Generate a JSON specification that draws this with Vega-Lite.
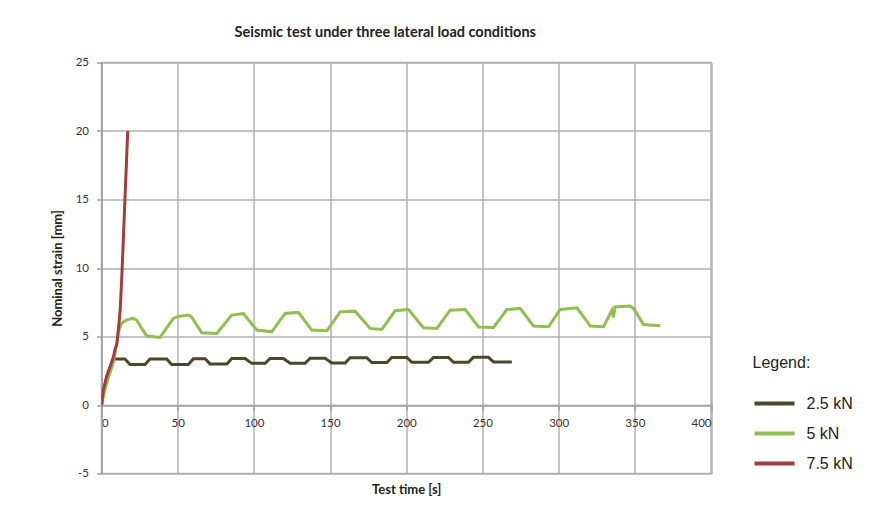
{
  "$schema": "https://vega.github.io/schema/vega-lite/v6.json",
  "width": 609.5,
  "height": 411,
  "autosize": "none",
  "padding": {"left": 101.5, "top": 62.5, "right": 158, "bottom": 32.5},
  "background": "white",
  "title": {
    "text": "Seismic test under three lateral load conditions",
    "font": "Lato",
    "fontSize": 14.5,
    "fontWeight": "bold",
    "color": "#222222",
    "anchor": "middle",
    "dx": -21,
    "offset": 16
  },
  "data": {
    "values": [
      {"load": "2.5 kN", "t": 0, "v": 0},
      {"load": "2.5 kN", "t": 1.2, "v": 1.0},
      {"load": "2.5 kN", "t": 3.4, "v": 2.0},
      {"load": "2.5 kN", "t": 5.6, "v": 2.7},
      {"load": "2.5 kN", "t": 7.5, "v": 3.25},
      {"load": "2.5 kN", "t": 8.9, "v": 3.35},
      {"load": "2.5 kN", "t": 15.4, "v": 3.35},
      {"load": "2.5 kN", "t": 18.7, "v": 2.95},
      {"load": "2.5 kN", "t": 28.6, "v": 2.95},
      {"load": "2.5 kN", "t": 31.8, "v": 3.35},
      {"load": "2.5 kN", "t": 42.8, "v": 3.35},
      {"load": "2.5 kN", "t": 46, "v": 2.95},
      {"load": "2.5 kN", "t": 57, "v": 2.95},
      {"load": "2.5 kN", "t": 60.3, "v": 3.38},
      {"load": "2.5 kN", "t": 68, "v": 3.38},
      {"load": "2.5 kN", "t": 71.2, "v": 3.0},
      {"load": "2.5 kN", "t": 82.3, "v": 3.0},
      {"load": "2.5 kN", "t": 85.5, "v": 3.4},
      {"load": "2.5 kN", "t": 94.2, "v": 3.4},
      {"load": "2.5 kN", "t": 98.6, "v": 3.04},
      {"load": "2.5 kN", "t": 107.4, "v": 3.04},
      {"load": "2.5 kN", "t": 110.6, "v": 3.4},
      {"load": "2.5 kN", "t": 119.4, "v": 3.4},
      {"load": "2.5 kN", "t": 123.8, "v": 3.05},
      {"load": "2.5 kN", "t": 133.6, "v": 3.05},
      {"load": "2.5 kN", "t": 136.9, "v": 3.42},
      {"load": "2.5 kN", "t": 146.7, "v": 3.42},
      {"load": "2.5 kN", "t": 151.1, "v": 3.06},
      {"load": "2.5 kN", "t": 159.9, "v": 3.06},
      {"load": "2.5 kN", "t": 163.2, "v": 3.45},
      {"load": "2.5 kN", "t": 174.1, "v": 3.45},
      {"load": "2.5 kN", "t": 177.4, "v": 3.1},
      {"load": "2.5 kN", "t": 187.3, "v": 3.1},
      {"load": "2.5 kN", "t": 190.5, "v": 3.47},
      {"load": "2.5 kN", "t": 200.4, "v": 3.47},
      {"load": "2.5 kN", "t": 203.6, "v": 3.12},
      {"load": "2.5 kN", "t": 214.6, "v": 3.12},
      {"load": "2.5 kN", "t": 217.9, "v": 3.47},
      {"load": "2.5 kN", "t": 227.7, "v": 3.47},
      {"load": "2.5 kN", "t": 231, "v": 3.12},
      {"load": "2.5 kN", "t": 240.8, "v": 3.12},
      {"load": "2.5 kN", "t": 244, "v": 3.48},
      {"load": "2.5 kN", "t": 254, "v": 3.48},
      {"load": "2.5 kN", "t": 257.3, "v": 3.13},
      {"load": "2.5 kN", "t": 269.3, "v": 3.13},

      {"load": "5 kN", "t": 0, "v": 0},
      {"load": "5 kN", "t": 2, "v": 1.0},
      {"load": "5 kN", "t": 4, "v": 1.8},
      {"load": "5 kN", "t": 6, "v": 2.5},
      {"load": "5 kN", "t": 8, "v": 3.2},
      {"load": "5 kN", "t": 9, "v": 3.9},
      {"load": "5 kN", "t": 10, "v": 4.5},
      {"load": "5 kN", "t": 11, "v": 5.3},
      {"load": "5 kN", "t": 12, "v": 5.6},
      {"load": "5 kN", "t": 13.2, "v": 5.95},
      {"load": "5 kN", "t": 15.4, "v": 6.15},
      {"load": "5 kN", "t": 17.6, "v": 6.25},
      {"load": "5 kN", "t": 20.9, "v": 6.32},
      {"load": "5 kN", "t": 23.1, "v": 6.2},
      {"load": "5 kN", "t": 26.4, "v": 5.59},
      {"load": "5 kN", "t": 29.7, "v": 5.03},
      {"load": "5 kN", "t": 38.4, "v": 4.93},
      {"load": "5 kN", "t": 47.1, "v": 6.32},
      {"load": "5 kN", "t": 50, "v": 6.45},
      {"load": "5 kN", "t": 57, "v": 6.56},
      {"load": "5 kN", "t": 59, "v": 6.45},
      {"load": "5 kN", "t": 65.8, "v": 5.27},
      {"load": "5 kN", "t": 75.6, "v": 5.22},
      {"load": "5 kN", "t": 85.5, "v": 6.56},
      {"load": "5 kN", "t": 93.1, "v": 6.68},
      {"load": "5 kN", "t": 101.9, "v": 5.47},
      {"load": "5 kN", "t": 111.7, "v": 5.34},
      {"load": "5 kN", "t": 120.5, "v": 6.68},
      {"load": "5 kN", "t": 129.2, "v": 6.76},
      {"load": "5 kN", "t": 138, "v": 5.47},
      {"load": "5 kN", "t": 147.9, "v": 5.42},
      {"load": "5 kN", "t": 156.6, "v": 6.8},
      {"load": "5 kN", "t": 166.4, "v": 6.85},
      {"load": "5 kN", "t": 176.3, "v": 5.59},
      {"load": "5 kN", "t": 184, "v": 5.52},
      {"load": "5 kN", "t": 192.7, "v": 6.88},
      {"load": "5 kN", "t": 201.5, "v": 6.97},
      {"load": "5 kN", "t": 211.3, "v": 5.64},
      {"load": "5 kN", "t": 220.1, "v": 5.59},
      {"load": "5 kN", "t": 228.8, "v": 6.92},
      {"load": "5 kN", "t": 238.7, "v": 6.97},
      {"load": "5 kN", "t": 247.4, "v": 5.7},
      {"load": "5 kN", "t": 257.3, "v": 5.66},
      {"load": "5 kN", "t": 266, "v": 6.97},
      {"load": "5 kN", "t": 274.8, "v": 7.05},
      {"load": "5 kN", "t": 283.5, "v": 5.76},
      {"load": "5 kN", "t": 293.4, "v": 5.71},
      {"load": "5 kN", "t": 301, "v": 6.97},
      {"load": "5 kN", "t": 312, "v": 7.09},
      {"load": "5 kN", "t": 320.8, "v": 5.76},
      {"load": "5 kN", "t": 329.5, "v": 5.71},
      {"load": "5 kN", "t": 335, "v": 6.92},
      {"load": "5 kN", "t": 336, "v": 6.4},
      {"load": "5 kN", "t": 337, "v": 7.15},
      {"load": "5 kN", "t": 347, "v": 7.22},
      {"load": "5 kN", "t": 349.5, "v": 7.0},
      {"load": "5 kN", "t": 355.7, "v": 5.88},
      {"load": "5 kN", "t": 366.7, "v": 5.78},

      {"load": "7.5 kN", "t": 0, "v": 0},
      {"load": "7.5 kN", "t": 1.2, "v": 1.1},
      {"load": "7.5 kN", "t": 3.4, "v": 2.1},
      {"load": "7.5 kN", "t": 5.6, "v": 2.8},
      {"load": "7.5 kN", "t": 7.8, "v": 3.5},
      {"load": "7.5 kN", "t": 8.9, "v": 4.1},
      {"load": "7.5 kN", "t": 10, "v": 4.4},
      {"load": "7.5 kN", "t": 10.6, "v": 5.0},
      {"load": "7.5 kN", "t": 11.5, "v": 6.0},
      {"load": "7.5 kN", "t": 12.3, "v": 7.0},
      {"load": "7.5 kN", "t": 13.3, "v": 9.3},
      {"load": "7.5 kN", "t": 14.3, "v": 12.0},
      {"load": "7.5 kN", "t": 15.3, "v": 14.8},
      {"load": "7.5 kN", "t": 16.3, "v": 17.5},
      {"load": "7.5 kN", "t": 17.2, "v": 20}
    ]
  },
  "mark": {"type": "line", "strokeWidth": 3, "clip": true},
  "encoding": {
    "x": {
      "field": "t",
      "type": "quantitative",
      "scale": {"domain": [0, 400], "nice": false},
      "axis": {
        "title": "Test time [s]",
        "values": [0, 50, 100, 150, 200, 250, 300, 350, 400],
        "offset": -68.5,
        "titlePadding": 55,
        "tickSize": 5,
        "labelPadding": 7
      }
    },
    "y": {
      "field": "v",
      "type": "quantitative",
      "scale": {"domain": [-5, 25], "nice": false},
      "axis": {
        "title": "Nominal strain [mm]",
        "values": [-5, 0, 5, 10, 15, 20, 25],
        "labelExpr": "datum.value + ''",
        "tickSize": 5,
        "labelPadding": 8,
        "titlePadding": 11
      }
    },
    "color": {
      "field": "load",
      "type": "nominal",
      "scale": {
        "domain": ["2.5 kN", "5 kN", "7.5 kN"],
        "range": ["#4b472b", "#8fbf4f", "#a83a3a"]
      },
      "legend": {
        "title": "Legend:",
        "orient": "none",
        "legendX": 651,
        "legendY": 292,
        "symbolType": "stroke",
        "symbolSize": 1600,
        "symbolStrokeWidth": 4,
        "rowPadding": -7,
        "labelOffset": 10,
        "titlePadding": 11
      }
    }
  },
  "config": {
    "view": {"stroke": "#b0b0b0", "strokeWidth": 1.5},
    "axis": {
      "labelFont": "Lato",
      "labelFontSize": 11.5,
      "labelColor": "#333333",
      "titleFont": "Lato",
      "titleFontSize": 13,
      "titleFontWeight": "bold",
      "titleColor": "#222222",
      "gridColor": "#b0b0b0",
      "gridWidth": 1.5,
      "gridOpacity": 1,
      "domainColor": "#a0a0a0",
      "domainWidth": 1.5,
      "tickColor": "#a0a0a0",
      "tickWidth": 1.5
    },
    "legend": {
      "titleFont": "Liberation Sans",
      "titleFontSize": 16,
      "titleFontWeight": "normal",
      "titleColor": "#222222",
      "labelFont": "Liberation Sans",
      "labelFontSize": 16,
      "labelColor": "#222222"
    }
  }
}
